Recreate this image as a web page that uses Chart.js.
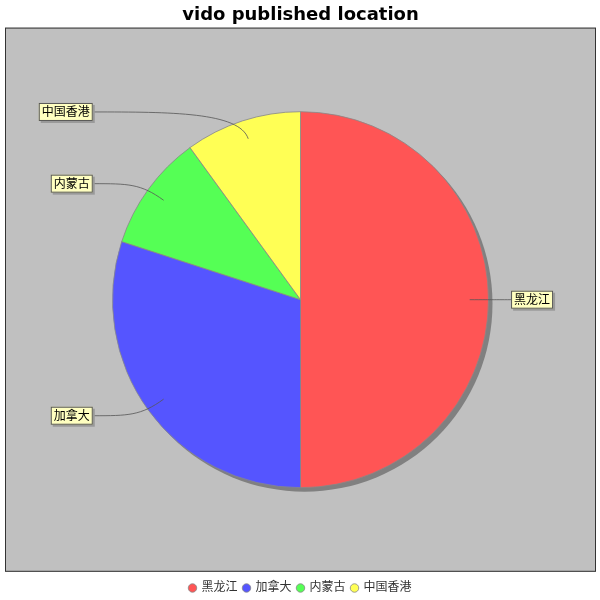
<!DOCTYPE html>
<html>
<head>
<meta charset="utf-8">
<script src="https://cdn.jsdelivr.net/npm/chart.js@4/dist/chart.umd.min.js"></script>
<style>
  html, body { margin: 0; padding: 0; background: #fff; }
  #wrap { width: 600px; height: 600px; }
</style>
</head>
<body>
<div id="wrap"><canvas id="pieChart" width="600" height="600"></canvas></div>
<script>
const locations = ['黑龙江', '加拿大', '内蒙古', '中国香港'];
const counts = [5, 3, 1, 1];
const sliceColors = ['#FF5555', '#5555FF', '#55FF55', '#FFFF55'];

const FONT = '"DejaVu Sans", "Noto Sans CJK SC", sans-serif';

// серый фон области графика с рамкой
const plotBackground = {
    id: 'plotBackground',
    beforeDraw(chart) {
        const ctx = chart.ctx;
        const a = chart.chartArea;
        ctx.save();
        ctx.fillStyle = '#C0C0C0';
        ctx.fillRect(a.left, a.top, a.right - a.left, a.bottom - a.top);
        ctx.strokeStyle = '#333';
        ctx.lineWidth = 1;
        ctx.strokeRect(a.left + 0.5, a.top + 0.5, a.right - a.left - 1, a.bottom - a.top - 1);
        ctx.restore();
    },
    beforeDatasetsDraw(chart) {
        // тень под кругом
        const arc = chart.getDatasetMeta(0).data[0];
        if (!arc) return;
        const ctx = chart.ctx;
        ctx.save();
        ctx.fillStyle = '#808080';
        ctx.beginPath();
        ctx.arc(arc.x + 4, arc.y + 4, arc.outerRadius, 0, Math.PI * 2);
        ctx.fill();
        ctx.restore();
    }
};

// подписи с выносками
const sliceLabels = {
    id: 'sliceLabels',
    afterDatasetsDraw(chart) {
        const ctx = chart.ctx;
        const meta = chart.getDatasetMeta(0);
        ctx.save();
        ctx.font = '12px ' + FONT;
        ctx.textBaseline = 'middle';
        meta.data.forEach((arc, i) => {
            const R = arc.outerRadius;
            const mid = (arc.startAngle + arc.endAngle) / 2;
            const ax = arc.x + Math.cos(mid) * R * 0.9;
            const ay = arc.y + Math.sin(mid) * R * 0.9;
            const ly = arc.y + Math.sin(mid) * R * 1.05;
            const right = Math.cos(mid) > 0;
            const text = chart.data.labels[i];
            const tw = ctx.measureText(text).width;
            const bw = tw + 6, bh = 18;
            const edgeX = right ? arc.x + R * 1.12 : arc.x - R * 1.105;
            const bx = right ? edgeX : edgeX - bw;
            const by = ly - bh / 2;

            // линия
            ctx.strokeStyle = '#555';
            ctx.lineWidth = 0.8;
            ctx.beginPath();
            ctx.moveTo(edgeX, ly);
            const dx = right ? -1 : 1;
            ctx.bezierCurveTo(edgeX + dx * Math.abs(ax - edgeX) * 0.5, ly,
                ax + Math.cos(mid) * R * 0.15, ay + Math.sin(mid) * R * 0.15,
                ax, ay);
            ctx.stroke();

            // коробка
            ctx.fillStyle = '#999';
            ctx.fillRect(bx + 2, by + 2, bw, bh);
            ctx.fillStyle = '#FFFFC0';
            ctx.fillRect(bx, by, bw, bh);
            ctx.strokeStyle = '#555';
            ctx.lineWidth = 1;
            ctx.strokeRect(bx + 0.5, by + 0.5, bw - 1, bh - 1);
            ctx.fillStyle = '#000';
            ctx.fillText(text, bx + 3, ly + 1);
        });
        ctx.restore();
    }
};

const chart = new Chart(document.getElementById('pieChart'), {
    type: 'pie',
    data: {
        labels: locations,
        datasets: [{
            data: counts,
            backgroundColor: sliceColors,
            borderColor: '#888',
            borderWidth: 0.8,
            radius: 188
        }]
    },
    options: {
        responsive: false,
        animation: false,
        events: [],
        layout: { padding: { left: 5, right: 4, top: 0, bottom: -4 } },
        plugins: {
            title: {
                display: true,
                text: 'vido published location',
                color: '#000',
                font: { family: FONT, size: 18, weight: 'bold' },
                padding: { top: 5, bottom: 1 }
            },
            legend: {
                position: 'bottom',
                title: {
                    display: true,
                    text: ' ',
                    font: { size: 1 },
                    padding: { top: 0, bottom: 3 }
                },
                labels: {
                    usePointStyle: true,
                    pointStyle: 'circle',
                    boxWidth: 6,
                    boxHeight: 6,
                    padding: 6,
                    color: '#333',
                    font: { family: FONT, size: 12 }
                }
            },
            tooltip: { enabled: false }
        }
    },
    plugins: [plotBackground, sliceLabels]
});
</script>
</body>
</html>
